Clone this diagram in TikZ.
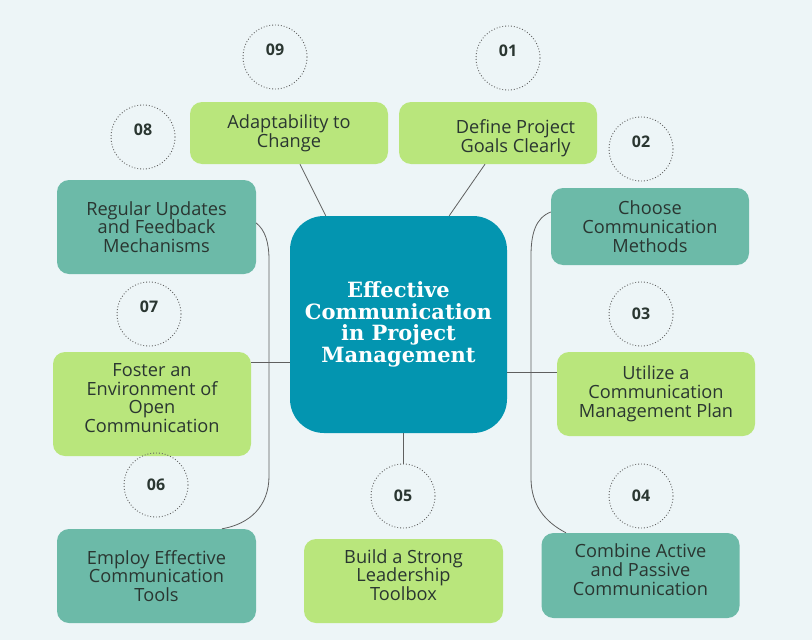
\documentclass[tikz,border=0pt]{standalone}
\usepackage{fontspec}
\setmainfont{Open Sans}
\newfontfamily\titlefont{DejaVu Serif}
\usetikzlibrary{positioning}
\definecolor{bgblue}{RGB}{237,245,247}
\definecolor{hubblue}{RGB}{3,149,176}
\definecolor{leafgreen}{RGB}{185,230,124}
\definecolor{leafteal}{RGB}{108,186,168}
\definecolor{inkgray}{RGB}{42,54,49}
\definecolor{wiregray}{RGB}{95,95,95}

\begin{document}
\begin{tikzpicture}[x=1pt, y=-1pt,
                hub/.style={rectangle, rounded corners=34pt, fill=hubblue, text=white, minimum width=217pt, minimum height=217pt, inner sep=0pt, align=center, font=\titlefont\bfseries\fontsize{21}{21.5}\selectfont},
                greenbox/.style={rectangle, rounded corners=12pt, fill=leafgreen, text=inkgray, minimum width=198pt, inner sep=0pt, align=center, font=\fontsize{18.2}{18.8}\selectfont},
                tealbox/.style={greenbox, fill=leafteal},
                boxtext/.style={text=inkgray, inner sep=0pt, align=center, font=\fontsize{18.2}{18.8}\selectfont},
                textup/.style={text depth=12pt},
                numcircle/.style={circle, draw=wiregray, dotted, line width=0.9pt, minimum size=64pt, inner sep=0pt, text=inkgray, font=\bfseries\fontsize{16}{16}\selectfont},
                numhigh/.style={text depth=15pt},
                wire/.style={draw=wiregray, line width=0.8pt},
            ]
            \fill[bgblue] (0,0) rectangle (812,640);
            \useasboundingbox (0,0) rectangle (812,640);

            % Nodes
            \node[hub]      (system)    at (398.5,324.5)   {Effective\\Communication\\in Project\\Management};

            \node[greenbox, minimum height=62pt]     (goals)     at (498,133)     {};
            \node[boxtext]  (goals_text)    at ([xshift=17.5pt, yshift=-5pt]goals.center)   {Define Project\\Goals Clearly};
            \node[tealbox, minimum height=77pt]      (methods)   at (650,226.5)   {Choose\\Communication\\Methods};
            \node[greenbox, minimum height=84pt]     (plan)      at (656,394)     {Utilize a\\Communication\\Management Plan};
            \node[tealbox, textup, minimum height=85pt]      (active)    at (640.5,575.5) {Combine Active\\and Passive\\Communication};
            \node[greenbox, textup, minimum height=84pt, minimum width=199pt]     (leader)    at (403.5,581)   {Build a Strong\\Leadership\\Toolbox};
            \node[tealbox, minimum height=94pt, minimum width=199pt]      (tools)     at (156.5,576)   {Employ Effective\\Communication\\Tools};
            \node[greenbox, textup, minimum height=104pt]    (open)      at (152,404)     {Foster an\\Environment of\\Open\\Communication};
            \node[tealbox, minimum height=94pt, minimum width=199pt]      (updates)   at (156.5,227)   {Regular Updates\\and Feedback\\Mechanisms};
            \node[greenbox, minimum height=62pt]     (change)    at (289,133)     {Adaptability to\\Change};

            \node[numcircle, numhigh]   (num_goals)     at (508,58)    {01};
            \node[numcircle, numhigh]   (num_methods)   at (641,149)   {02};
            \node[numcircle]            (num_plan)      at (641,314)   {03};
            \node[numcircle]            (num_active)    at (641,496)   {04};
            \node[numcircle]            (num_leader)    at (403,496)   {05};
            \node[numcircle]            (num_tools)     at (156,485)   {06};
            \node[numcircle, numhigh]   (num_open)      at (149,314)   {07};
            \node[numcircle, numhigh]   (num_updates)   at (143,137)   {08};
            \node[numcircle, numhigh]   (num_change)    at (275,57)    {09};

            % Lines
            \draw[wire] ([xshift=11pt]change.south) -- ([xshift=36pt]system.north west);
            \draw[wire] ([xshift=-13pt]goals.south) -- ([xshift=-58pt]system.north east);

            \draw[wire] ([yshift=-47.5pt]system.east) -- ([yshift=-47.5pt]system.east -| plan.west);
            \draw[wire] ([yshift=-37.5pt]system.west) -- ([yshift=-37.5pt]system.west -| open.east);
            \draw[wire] ([xshift=4.5pt]system.south) -- (num_leader.north);

            \draw[wire] ([yshift=14.5pt]methods.west) .. controls (535,218) and (531,235) .. (531,256)
                -- (531,478) .. controls (531,505) and (545,522) .. ([xshift=-74.5pt]active.north);
            \draw[wire] ([yshift=4pt]updates.east) .. controls (265,230) and (269,242) .. (269,260)
                -- (269,476) .. controls (269,506) and (250,524) .. ([xshift=65.5pt]tools.north);
        \end{tikzpicture}
\end{document}
